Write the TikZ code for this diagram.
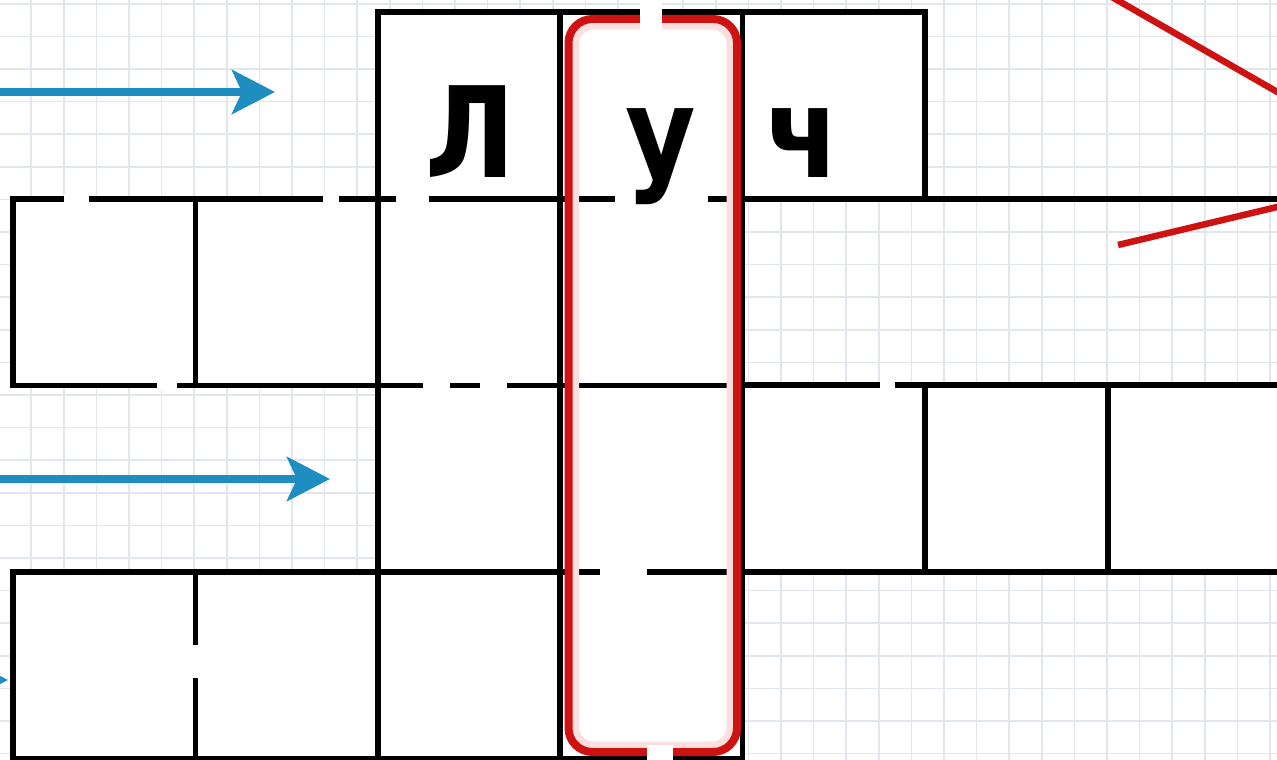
\documentclass[tikz,border=0pt]{standalone}
\usepackage{fontspec}
\newfontfamily\letterfont{DejaVu Sans}
\usetikzlibrary{arrows.meta}
\definecolor{gridc}{RGB}{226,231,237}
\definecolor{redc}{RGB}{206,18,18}
\definecolor{pinkc}{RGB}{252,222,222}
\definecolor{bluec}{RGB}{30,142,192}
\tikzset{
  gridline/.style={draw=gridc, line width=1.6pt},
  cell/.style={draw=black, fill=white, line width=5.5pt, rectangle, inner sep=0pt, outer sep=0pt,
    minimum width=182.5pt, minimum height=186.5pt},
  blackline/.style={draw=black, line width=5.5pt},
  erase/.style={fill=white, draw=none},
  redbox/.style={draw=redc, line width=8pt, rounded corners=24pt},
  glowbox/.style={draw=pinkc, line width=7pt, rounded corners=18pt},
  bluearrow/.style={draw=bluec, line width=8pt, -{Stealth[length=43pt, width=44pt, inset=10pt]}},
  redray/.style={draw=redc, line width=6.5pt},
  letter/.style={inner sep=0pt, anchor=base, font=\letterfont\bfseries\fontsize{126}{126}\selectfont}
}
\newcommand{\narrow}[1]{\scalebox{0.86}[1]{#1}}
\begin{document}
\begin{tikzpicture}[x=1pt, y=-1pt]
\useasboundingbox (0,0) rectangle (1277,760);
\clip (0,0) rectangle (1277,760);
\fill[white] (0,0) rectangle (1277,760);
% grid paper
\foreach \i in {0,...,40} \draw[gridline] ({-1.4+32.6*\i},0) -- ({-1.4+32.6*\i},760);
\foreach \j in {0,...,23} \draw[gridline] (0,{3.8+32.6*\j}) -- (1277,{3.8+32.6*\j});
% long horizontal rules on the right
\coordinate (h1a) at (742,199); \coordinate (h1b) at (1290,199);
\coordinate (h2a) at (742,385); \coordinate (h2b) at (1290,385);
\draw[blackline] (h1a) -- (h1b);
\draw[blackline] (h2a) -- (h2b);
% crossword cells
\foreach \cx/\cy/\nm in {469/105.5/r0c2, 651/105.5/r0c3, 833.5/105.5/r0c4,
  104/292/r1c0, 286.5/292/r1c1, 469/292/r1c2, 651/292/r1c3,
  469/478.5/r2c2, 651/478.5/r2c3, 833.5/478.5/r2c4, 1016.5/478.5/r2c5, 1199/478.5/r2c6,
  104/665/r3c0, 286.5/665/r3c1, 469/665/r3c2, 651/665/r3c3}
  \node[cell] (\nm) at (\cx,\cy) {};
% erased bits of the rules
\foreach \xa/\ya/\xb/\yb in {64/194/89/204, 323/194/339/204, 396/194/429/204, 615/194/708/204,
  157/380/177/390, 423/380/450/390, 480/380/507/390, 880/380/895/390,
  600/567/647/578, 190/645/201/678}
  \fill[erase] (\xa,\ya) rectangle (\xb,\yb);
% highlighted column
\draw[glowbox] (575.5,26) rectangle (730,745);
\draw[redbox] (568.5,19) rectangle (737,752);
\fill[erase] (640,0) rectangle (662,30);
\fill[erase] (647,745) rectangle (673,760);
% letters
\node[letter] (L) at (470,177) {\narrow{Л}};
\node[letter] (U) at (661,177) {\narrow{у}};
\node[letter] (Ch) at (803,177) {\narrow{ч}};
% blue arrows
\coordinate (b1s) at (-20,92);  \coordinate (b1e) at (275,92);
\coordinate (b2s) at (-20,479); \coordinate (b2e) at (330,479);
\coordinate (b3s) at (-200,680); \coordinate (b3e) at (8,680);
\draw[bluearrow] (b1s) -- (b1e);
\draw[bluearrow] (b2s) -- (b2e);
\draw[bluearrow] (b3s) -- (b3e);
% red ray
\coordinate (v1) at (1100,-9.8); \coordinate (v2) at (1300,105);
\coordinate (w1) at (1118,245); \coordinate (w2) at (1300,201.5);
\draw[redray] (v1) -- (v2);
\draw[redray] (w1) -- (w2);
\end{tikzpicture}
\end{document}
